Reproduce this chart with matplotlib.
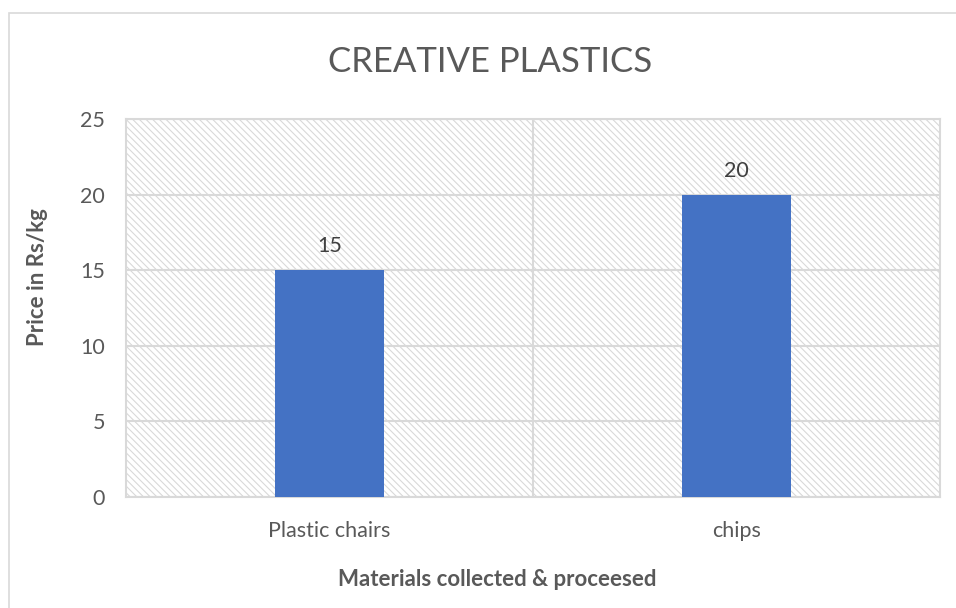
import numpy as np
import matplotlib.pyplot as plt
from matplotlib.patches import Rectangle

categories = ["Plastic chairs", "chips"]
prices = [15, 20]
yticks = [0, 5, 10, 15, 20, 25]

title = "CREATIVE PLASTICS"
xlabel = "Materials collected & proceesed"
ylabel = "Price in Rs/kg"

plt.rcParams['font.family'] = ['Lato', 'DejaVu Sans']
plt.rcParams['hatch.linewidth'] = 0.8
plt.rcParams['hatch.color'] = '#d6d6d6'

grey_text = '#595959'
grid_col = '#d9d9d9'

W, H = 956, 608
fig = plt.figure(figsize=(W/100, H/100), dpi=100)
ax = fig.add_axes([126/W, 1 - 497/H, (940 - 126)/W, (497 - 119)/H])

# outer chart border (runs off the right and bottom edges)
fig.add_artist(Rectangle((9/W, -0.05), 1.0, 1 - 13/H + 0.05, transform=fig.transFigure,
                         fill=False, edgecolor=grid_col, linewidth=1.2))

# hatched plot area background
ax.add_patch(Rectangle((0, 0), 1, 1, transform=ax.transAxes, facecolor='white',
                       edgecolor=grid_col, hatch='\\' * 5, linewidth=0, zorder=0))

x = np.arange(len(categories))
bars = ax.bar(x, prices, width=0.27, color='#4472C4', zorder=3)
for b, v in zip(bars, prices):
    ax.annotate(str(v), (b.get_x() + b.get_width()/2, v), xytext=(0, 24),
                textcoords='offset pixels', ha='center', va='center',
                fontsize=15.5, color='#404040')

ax.set_xlim(-0.5, len(categories) - 0.5)
ax.set_ylim(0, 25)
ax.set_yticks(yticks)
ax.set_xticks(x)
ax.set_xticklabels(categories)
ax.yaxis.grid(True, color=grid_col, linewidth=1.5, zorder=1)
ax.set_axisbelow(True)
for b in np.arange(0.5, len(categories) - 0.5):
    ax.axvline(b, color=grid_col, linewidth=1.5, zorder=1)

for s in ax.spines.values():
    s.set_color(grid_col)
    s.set_linewidth(1.5)

ax.tick_params(axis='both', length=0, labelsize=15.5, colors=grey_text)
ax.tick_params(axis='y', pad=15)
ax.tick_params(axis='x', pad=17)

fig.text(490/W, 1 - 62/H, title, fontsize=25, color=grey_text, ha='center', va='center')
fig.text(497/W, 1 - 580/H, xlabel, fontsize=16, fontweight='bold', color=grey_text,
         ha='center', va='center')
fig.text(37/W, 1 - 277/H, ylabel, fontsize=16, fontweight='bold', color=grey_text,
         ha='center', va='center', rotation=90)

fig.savefig('out.png', dpi=100, facecolor='white')
